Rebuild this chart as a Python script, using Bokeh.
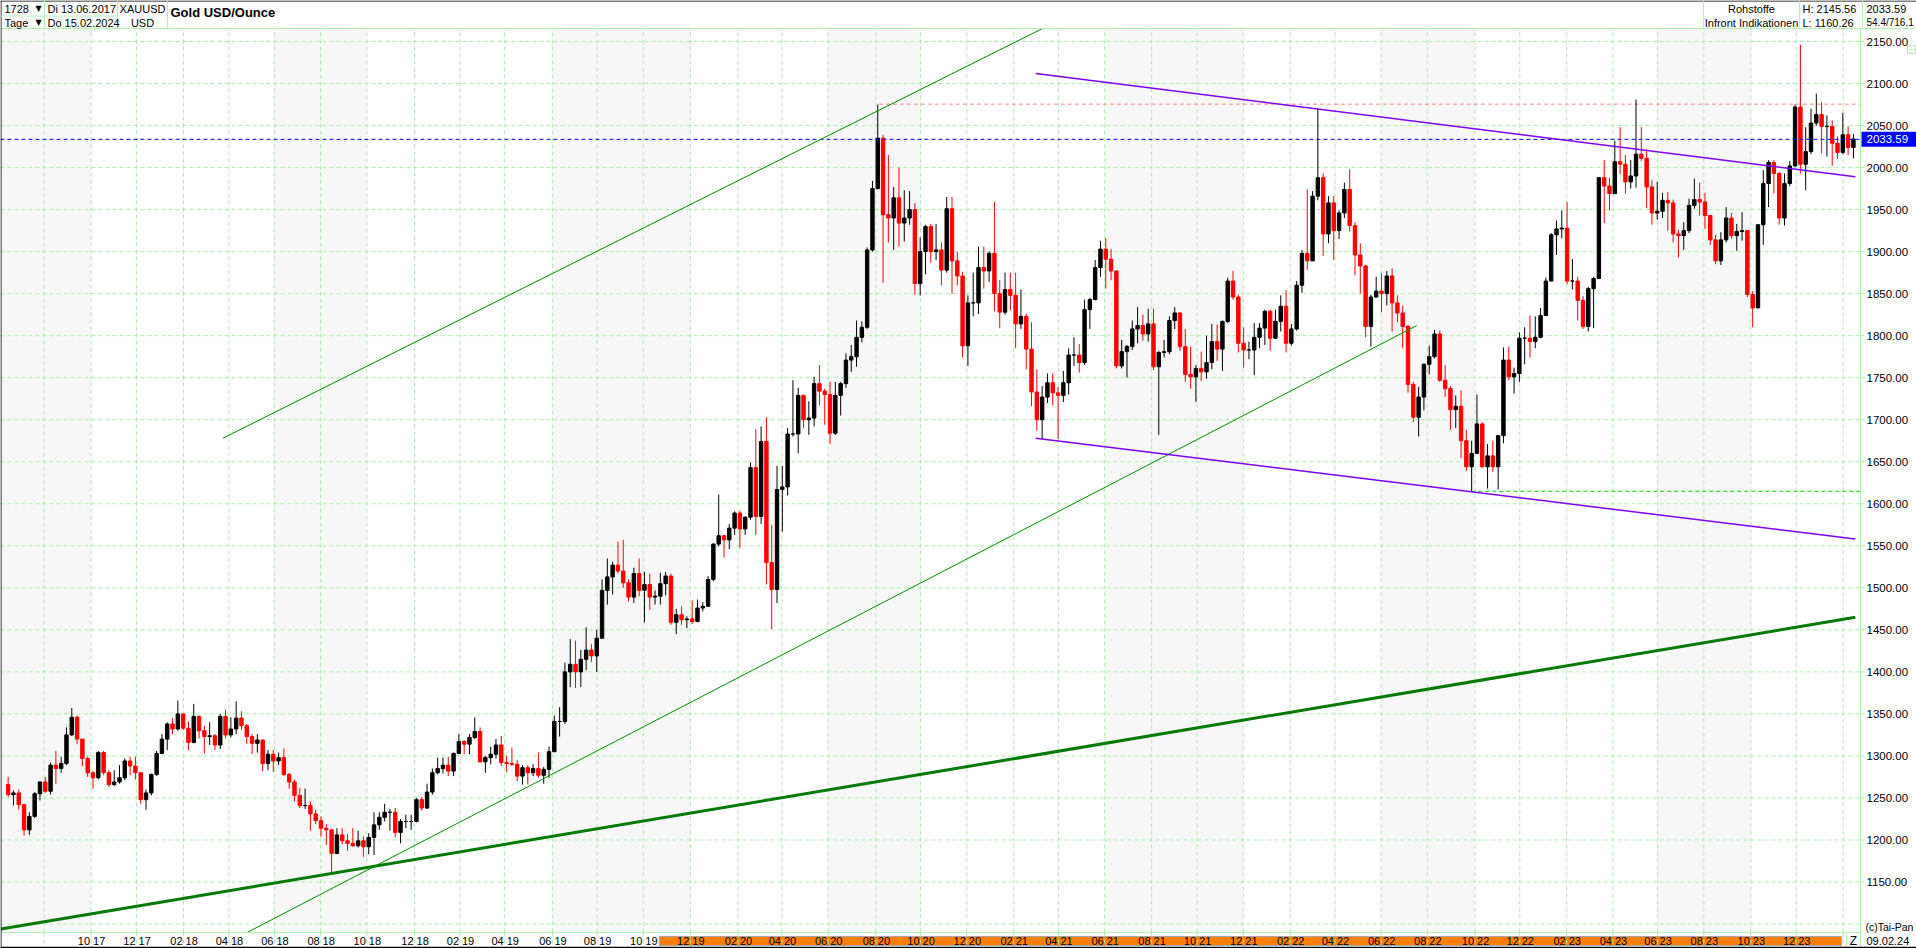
import pandas as pd
from bokeh.plotting import figure
from bokeh.models import ColumnDataSource, Range1d
from bokeh.core.properties import value
from bokeh.embed import file_html
from bokeh.resources import INLINE

# ---------------- data: weekly XAU/USD bars (week starting Monday) ----------------
first_week = "2017-06-12"

week_open = [
    # 2017
    1266, 1254, 1256, 1242, 1212, 1228, 1255, 1269, 1258, 1289, 1285, 1291, 1325, 1346, 1320, 1297, 1280, 1274, 1304, 1280, 1266, 1269, 1274, 1294, 1288, 1280, 1248, 1256, 1278,
    # 2018
    1303, 1320, 1338, 1332, 1350, 1333, 1316, 1347, 1330, 1323, 1324, 1313, 1347, 1325, 1332, 1345, 1336, 1323, 1315, 1319, 1291, 1302, 1294, 1298, 1278, 1269, 1253, 1241, 1241, 1231, 1223, 1214, 1212, 1184, 1206, 1199, 1196, 1193, 1199, 1192, 1203, 1218, 1227, 1233, 1233, 1209, 1222, 1222, 1222, 1248, 1238, 1257,
    # 2019
    1280, 1285, 1289, 1282, 1303, 1317, 1314, 1322, 1329, 1293, 1298, 1302, 1313, 1292, 1291, 1290, 1276, 1286, 1280, 1285, 1277, 1284, 1305, 1341, 1341, 1400, 1409, 1400, 1415, 1426, 1419, 1440, 1497, 1513, 1527, 1520, 1506, 1489, 1517, 1497, 1504, 1489, 1490, 1505, 1514, 1459, 1468, 1462, 1463, 1460, 1476, 1478, 1510,
    # 2020
    1552, 1562, 1557, 1571, 1589, 1570, 1584, 1643, 1585, 1674, 1530, 1498, 1617, 1620, 1683, 1683, 1729, 1700, 1702, 1743, 1734, 1730, 1684, 1729, 1743, 1771, 1775, 1798, 1810, 1902, 1975, 2035, 1944, 1940, 1964, 1934, 1940, 1950, 1862, 1900, 1930, 1900, 1902, 1878, 1951, 1889, 1871, 1788, 1839, 1839, 1881, 1877,
    # 2021
    1898, 1850, 1828, 1855, 1848, 1814, 1823, 1784, 1733, 1700, 1727, 1744, 1732, 1729, 1744, 1777, 1777, 1768, 1831, 1843, 1881, 1903, 1891, 1877, 1764, 1781, 1787, 1808, 1812, 1802, 1814, 1763, 1780, 1781, 1818, 1827, 1787, 1754, 1751, 1761, 1757, 1768, 1793, 1784, 1817, 1865, 1846, 1791, 1783, 1783, 1798, 1809,
    # 2022
    1829, 1797, 1817, 1835, 1791, 1808, 1860, 1898, 1889, 1966, 1988, 1921, 1958, 1925, 1946, 1974, 1931, 1896, 1883, 1811, 1846, 1853, 1850, 1871, 1839, 1827, 1811, 1742, 1703, 1727, 1766, 1775, 1802, 1747, 1737, 1712, 1716, 1675, 1644, 1660, 1695, 1644, 1657, 1644, 1681, 1771, 1751, 1755, 1797, 1797, 1793, 1798,
    # 2023
    1824, 1865, 1920, 1927, 1928, 1865, 1865, 1842, 1811, 1856, 1868, 1988, 1978, 1969, 2007, 2004, 1983, 1990, 2016, 2011, 1977, 1946, 1948, 1961, 1958, 1921, 1919, 1925, 1955, 1962, 1959, 1943, 1914, 1889, 1914, 1940, 1919, 1924, 1925, 1849, 1833, 1932, 1981, 2006, 1993, 1940, 1981, 2002, 2072, 2004, 2019, 2053,
    # 2024
    2063, 2049, 2049, 2029, 2018, 2039, 2024,
]

week_high = [
    1275, 1259, 1260, 1243, 1233, 1257, 1270, 1275, 1292, 1306, 1299, 1334, 1357, 1348, 1320, 1299, 1282, 1306, 1306, 1283, 1283, 1289, 1297, 1299, 1299, 1280, 1260, 1279, 1306,
    1326, 1340, 1345, 1366, 1350, 1341, 1362, 1348, 1336, 1340, 1326, 1350, 1355, 1346, 1365, 1353, 1338, 1326, 1326, 1319, 1307, 1307, 1304, 1309, 1280, 1272, 1262, 1261, 1246, 1236, 1228, 1219, 1213, 1214, 1214, 1207, 1214, 1211, 1204, 1208, 1233, 1233, 1243, 1237, 1238, 1225, 1230, 1230, 1250, 1251, 1267, 1285,
    1298, 1298, 1299, 1304, 1326, 1319, 1326, 1346, 1334, 1300, 1311, 1320, 1324, 1300, 1310, 1295, 1289, 1289, 1290, 1304, 1287, 1311, 1348, 1358, 1411, 1439, 1437, 1426, 1453, 1433, 1450, 1510, 1535, 1531, 1555, 1557, 1510, 1524, 1535, 1519, 1517, 1497, 1518, 1519, 1517, 1475, 1478, 1466, 1485, 1486, 1483, 1514, 1553,
    1611, 1563, 1576, 1591, 1592, 1585, 1649, 1689, 1692, 1703, 1575, 1645, 1645, 1690, 1747, 1738, 1730, 1722, 1751, 1765, 1737, 1745, 1745, 1745, 1779, 1789, 1818, 1817, 1905, 1984, 2075, 2039, 2015, 1977, 2000, 1973, 1972, 1958, 1917, 1932, 1933, 1933, 1911, 1965, 1965, 1900, 1876, 1848, 1875, 1906, 1906, 1900,
    1959, 1866, 1875, 1875, 1875, 1855, 1826, 1816, 1760, 1740, 1755, 1755, 1739, 1758, 1785, 1798, 1790, 1843, 1845, 1890, 1913, 1916, 1903, 1877, 1795, 1789, 1818, 1834, 1825, 1832, 1832, 1782, 1795, 1823, 1834, 1828, 1808, 1787, 1765, 1781, 1800, 1814, 1813, 1818, 1869, 1877, 1849, 1810, 1793, 1815, 1815, 1831,
    1831, 1831, 1848, 1854, 1814, 1865, 1902, 1974, 1972, 2070, 1993, 1966, 1966, 1949, 1982, 1998, 1935, 1910, 1884, 1849, 1870, 1874, 1877, 1880, 1848, 1836, 1813, 1745, 1739, 1767, 1788, 1807, 1806, 1765, 1740, 1729, 1735, 1688, 1675, 1730, 1697, 1671, 1675, 1682, 1786, 1787, 1762, 1804, 1810, 1824, 1823, 1833,
    1869, 1922, 1937, 1949, 1959, 1891, 1870, 1847, 1858, 1870, 1989, 2009, 1988, 2032, 2048, 2015, 2009, 2081, 2048, 2022, 1985, 1983, 1970, 1971, 1962, 1926, 1935, 1963, 1987, 1982, 1970, 1943, 1920, 1923, 1953, 1946, 1933, 1947, 1925, 1853, 1933, 1997, 2009, 2009, 1995, 1993, 2008, 2075, 2146, 2048, 2070, 2088,
    2078, 2062, 2056, 2037, 2065, 2049, 2040,
]

week_low = [
    1251, 1241, 1236, 1205, 1206, 1226, 1247, 1256, 1254, 1267, 1280, 1289, 1324, 1314, 1288, 1275, 1261, 1272, 1277, 1263, 1264, 1267, 1271, 1277, 1272, 1243, 1236, 1253, 1276,
    1302, 1307, 1326, 1330, 1331, 1307, 1315, 1321, 1303, 1313, 1307, 1308, 1321, 1322, 1326, 1331, 1314, 1302, 1304, 1282, 1283, 1281, 1289, 1276, 1261, 1246, 1238, 1237, 1211, 1219, 1204, 1194, 1160, 1183, 1195, 1187, 1192, 1191, 1180, 1183, 1182, 1212, 1222, 1211, 1203, 1196, 1214, 1212, 1221, 1235, 1237, 1254,
    1278, 1279, 1276, 1276, 1302, 1302, 1302, 1320, 1292, 1280, 1290, 1297, 1288, 1281, 1288, 1270, 1266, 1266, 1276, 1274, 1267, 1274, 1305, 1323, 1338, 1382, 1381, 1382, 1402, 1412, 1400, 1440, 1480, 1492, 1517, 1500, 1484, 1482, 1490, 1459, 1474, 1480, 1480, 1491, 1456, 1445, 1456, 1452, 1457, 1459, 1472, 1478, 1508,
    1549, 1536, 1546, 1563, 1547, 1563, 1581, 1563, 1576, 1504, 1451, 1482, 1567, 1610, 1680, 1660, 1690, 1682, 1692, 1717, 1694, 1671, 1682, 1705, 1738, 1757, 1763, 1792, 1808, 1900, 1974, 1863, 1911, 1902, 1906, 1912, 1932, 1849, 1848, 1873, 1887, 1890, 1860, 1875, 1850, 1860, 1774, 1764, 1823, 1826, 1856, 1864,
    1829, 1809, 1825, 1830, 1785, 1808, 1760, 1716, 1687, 1677, 1720, 1717, 1677, 1721, 1730, 1764, 1756, 1765, 1808, 1842, 1870, 1856, 1866, 1761, 1761, 1750, 1783, 1791, 1794, 1793, 1759, 1682, 1774, 1778, 1808, 1782, 1745, 1737, 1721, 1746, 1749, 1760, 1770, 1758, 1815, 1843, 1780, 1762, 1772, 1753, 1785, 1789,
    1782, 1796, 1805, 1780, 1788, 1806, 1851, 1878, 1889, 1961, 1895, 1910, 1890, 1915, 1940, 1924, 1872, 1850, 1798, 1787, 1845, 1828, 1836, 1805, 1816, 1785, 1732, 1697, 1680, 1711, 1754, 1773, 1745, 1727, 1688, 1690, 1654, 1639, 1615, 1660, 1643, 1618, 1638, 1617, 1672, 1747, 1731, 1745, 1766, 1774, 1785, 1797,
    1824, 1865, 1896, 1916, 1861, 1855, 1818, 1808, 1805, 1809, 1868, 1934, 1949, 1969, 1992, 1969, 1975, 1976, 2008, 1952, 1932, 1938, 1940, 1925, 1911, 1893, 1902, 1922, 1951, 1943, 1927, 1908, 1885, 1884, 1911, 1915, 1901, 1913, 1846, 1810, 1833, 1908, 1953, 1969, 1932, 1931, 1978, 2001, 1993, 1973, 2016, 2050,
    2017, 2013, 2002, 2010, 2016, 2015, 2011,
]

week_close = [
    1254, 1256, 1242, 1212, 1228, 1255, 1269, 1258, 1289, 1285, 1291, 1325, 1346, 1320, 1297, 1280, 1274, 1304, 1280, 1266, 1269, 1274, 1294, 1288, 1280, 1248, 1256, 1278, 1303,
    1320, 1338, 1332, 1350, 1333, 1316, 1347, 1330, 1323, 1324, 1313, 1347, 1325, 1332, 1345, 1336, 1323, 1315, 1319, 1291, 1302, 1294, 1298, 1278, 1269, 1253, 1241, 1241, 1231, 1223, 1214, 1212, 1184, 1206, 1199, 1196, 1193, 1199, 1192, 1203, 1218, 1227, 1233, 1233, 1209, 1222, 1222, 1222, 1248, 1238, 1257, 1280,
    1285, 1289, 1282, 1303, 1317, 1314, 1322, 1329, 1293, 1298, 1302, 1313, 1292, 1291, 1290, 1276, 1286, 1280, 1285, 1277, 1284, 1305, 1341, 1341, 1400, 1409, 1400, 1415, 1426, 1419, 1440, 1497, 1513, 1527, 1520, 1506, 1489, 1517, 1497, 1504, 1489, 1490, 1505, 1514, 1459, 1468, 1462, 1463, 1460, 1476, 1478, 1510, 1552,
    1562, 1557, 1571, 1589, 1570, 1584, 1643, 1585, 1674, 1530, 1498, 1617, 1620, 1683, 1683, 1729, 1700, 1702, 1743, 1734, 1730, 1684, 1729, 1743, 1771, 1775, 1798, 1810, 1902, 1975, 2035, 1944, 1940, 1964, 1934, 1940, 1950, 1862, 1900, 1930, 1900, 1902, 1878, 1951, 1889, 1871, 1788, 1839, 1839, 1881, 1877, 1898,
    1850, 1828, 1855, 1848, 1814, 1823, 1784, 1733, 1700, 1727, 1744, 1732, 1729, 1744, 1777, 1777, 1768, 1831, 1843, 1881, 1903, 1891, 1877, 1764, 1781, 1787, 1808, 1812, 1802, 1814, 1763, 1780, 1781, 1818, 1827, 1787, 1754, 1751, 1761, 1757, 1768, 1793, 1784, 1817, 1865, 1846, 1791, 1783, 1783, 1798, 1809, 1829,
    1797, 1817, 1835, 1791, 1808, 1860, 1898, 1889, 1966, 1988, 1921, 1958, 1925, 1946, 1974, 1931, 1896, 1883, 1811, 1846, 1853, 1850, 1871, 1839, 1827, 1811, 1742, 1703, 1727, 1766, 1775, 1802, 1747, 1737, 1712, 1716, 1675, 1644, 1660, 1695, 1644, 1657, 1644, 1681, 1771, 1751, 1755, 1797, 1797, 1793, 1798, 1824,
    1865, 1920, 1927, 1928, 1865, 1865, 1842, 1811, 1856, 1868, 1988, 1978, 1969, 2007, 2004, 1983, 1990, 2016, 2011, 1977, 1946, 1948, 1961, 1958, 1921, 1919, 1925, 1955, 1962, 1959, 1943, 1914, 1889, 1914, 1940, 1919, 1924, 1925, 1849, 1833, 1932, 1981, 2006, 1993, 1940, 1981, 2002, 2072, 2004, 2019, 2053, 2063,
    2049, 2049, 2029, 2018, 2039, 2024, 2034,
]

last_price = 2033.59
range_high = 2145.56
range_low = 1160.26

# y axis
y_tick_values = [1150, 1200, 1250, 1300, 1350, 1400, 1450, 1500, 1550, 1600, 1650, 1700,
                 1750, 1800, 1850, 1900, 1950, 2000, 2050, 2100, 2150]
y_grid_values = [1100] + y_tick_values

# x axis (every second month)
x_grid_months = ["2017-08", "2017-10", "2017-12",
                 "2018-02", "2018-04", "2018-06", "2018-08", "2018-10", "2018-12",
                 "2019-02", "2019-04", "2019-06", "2019-08", "2019-10", "2019-12",
                 "2020-02", "2020-04", "2020-06", "2020-08", "2020-10", "2020-12",
                 "2021-02", "2021-04", "2021-06", "2021-08", "2021-10", "2021-12",
                 "2022-02", "2022-04", "2022-06", "2022-08", "2022-10", "2022-12",
                 "2023-02", "2023-04", "2023-06", "2023-08", "2023-10", "2023-12",
                 "2024-02"]
x_tick_labels = ["08 17", "10 17", "12 17",
                 "02 18", "04 18", "06 18", "08 18", "10 18", "12 18",
                 "02 19", "04 19", "06 19", "08 19", "10 19", "12 19",
                 "02 20", "04 20", "06 20", "08 20", "10 20", "12 20",
                 "02 21", "04 21", "06 21", "08 21", "10 21", "12 21",
                 "02 22", "04 22", "06 22", "08 22", "10 22", "12 22",
                 "02 23", "04 23", "06 23", "08 23", "10 23", "12 23",
                 "02 24"]

# drawn trend lines (date, price) -> (date, price)
support_start = ("2017-06-05", 1094)
support_end = ("2024-02-17", 1465)
thin_x0 = ["2018-03-25", "2018-04-26"]
thin_y0 = [1678, 1090]
thin_x1 = ["2021-03-10", "2022-07-18"]
thin_y1 = [2165, 1812]
wedge_x0 = ["2021-03-02", "2021-03-02"]
wedge_y0 = [2112, 1678]
wedge_x1 = ["2024-02-17", "2024-02-17"]
wedge_y1 = [1989, 1558]

# horizontal levels
level_high_2020 = 2075.47
level_high_start = "2020-08-07"
level_low_2022 = 1614.85
level_low_start = "2022-09-28"

# shaded background periods
band_starts = ["2017-06-01", "2018-06-01", "2019-06-03", "2020-06-01", "2021-06-01", "2022-06-01", "2023-06-01"]
band_ends = ["2017-10-02", "2018-10-01", "2019-12-02", "2020-10-01", "2021-12-01", "2022-10-03", "2023-10-02"]

# selection bar in the date strip
strip_sel_start = "2019-10-22"
strip_sel_end = "2024-01-30"

# ---------------- layout / style ----------------
FONT = "Liberation Sans"
W, H = 1916, 948
PX_R = 1860           # right edge of the price pane (pixels)
PY_T, PY_B = 28, 932  # top / bottom of the price pane (pixels)
GRID = "#a8eea8"
FRAME = "#b4f0b4"
BAND = "#f7f7f7"
DAY = 86400000.0
PX_PER_DAY = 0.7575
PX_PER_USD = 0.8405


def ms(d):
    return pd.Timestamp(d).value / 1e6


# data window: the 10/17 grid line sits 90.6 px from the left edge, 2150 sits 41 px from the top
mpp = DAY / PX_PER_DAY
upp = 1.0 / PX_PER_USD
x0 = ms("2017-10-02") - 90.6 * mpp
ref_price, ref_px = 2150.0, 41.0
x1 = x0 + mpp * PX_R
y1 = ref_price + upp * (ref_px - PY_T)
y0 = ref_price - upp * (PY_B - ref_px)
xr = Range1d(x0, x0 + mpp * W)
yr = Range1d(ref_price - upp * (H - ref_px), ref_price + upp * ref_px)

n = len(week_close)
assert len(week_open) == n and len(week_high) == n and len(week_low) == n

weeks = pd.date_range(first_week, periods=n, freq="7D")
xs = [ms(d) + 2.5 * DAY for d in weeks]
up = [c >= o for o, c in zip(week_open, week_close)]
src = ColumnDataSource(dict(
    x=xs, o=week_open, h=week_high, l=week_low, c=week_close,
    top=[max(o, c) for o, c in zip(week_open, week_close)],
    bottom=[min(o, c) for o, c in zip(week_open, week_close)],
    color=["#000000" if u else "#ff0000" for u in up],
))

grid_x = [ms(pd.offsets.BMonthBegin().rollforward(pd.Timestamp(m + "-01"))) for m in x_grid_months]

p = figure(width=W, height=H, x_range=xr, y_range=yr, output_backend="svg",
           toolbar_location=None, x_axis_location=None, y_axis_location=None, min_border=0)
p.extra_x_ranges = {"px": Range1d(0, W)}
p.extra_y_ranges = {"px": Range1d(H, 0)}
p.outline_line_color = None
p.grid.visible = False
p.background_fill_color = "white"
p.border_fill_color = "white"

PX = dict(x_range_name="px", y_range_name="px")


def ptext(x, y, s, align="left", bold=False, size="11px", font=FONT, color="black", **kw):
    p.text(x=[x], y=[y], text=[s], text_font=value(font), text_font_size=size,
           text_align=align, text_baseline="middle", text_color=color,
           text_font_style="bold" if bold else "normal", **kw)


# ---- price pane background bands ----
p.quad(left=[max(ms(s), x0) for s in band_starts], right=[ms(e) for e in band_ends],
       bottom=[y0] * len(band_starts), top=[y1] * len(band_starts),
       fill_color=BAND, line_color=None)

# ---- grid ----
p.segment(x0=[x0] * len(y_grid_values), y0=y_grid_values, x1=[x1] * len(y_grid_values), y1=y_grid_values,
          color=GRID, line_dash="4 3", line_width=1)
p.segment(x0=grid_x, y0=[y0] * len(grid_x), x1=grid_x, y1=[y1] * len(grid_x),
          color=GRID, line_dash="4 3", line_width=1)

# ---- horizontal levels ----
p.segment(x0=[ms(level_high_start)], y0=[level_high_2020], x1=[x1], y1=[level_high_2020],
          color="#ff8080", line_dash="4 3", line_width=1)
p.segment(x0=[ms(level_low_start)], y0=[level_low_2022], x1=[x1], y1=[level_low_2022],
          color="#00dd00", line_dash="4 3", line_width=1)

# ---- candles ----
p.segment(x0="x", y0="l", x1="x", y1="h", color="color", line_width=1, source=src)
p.vbar(x="x", width=4.5 * DAY, top="top", bottom="bottom", fill_color="color",
       line_color="color", line_width=1, source=src)

# ---- last price line ----
p.segment(x0=[x0], y0=[last_price], x1=[x1], y1=[last_price], color="#0000ff",
          line_dash="4 3", line_width=1)

# ---- trend lines ----
p.segment(x0=[ms(support_start[0])], y0=[support_start[1]], x1=[ms(support_end[0])], y1=[support_end[1]],
          color="#007a00", line_width=3)
p.segment(x0=[ms(d) for d in thin_x0], y0=thin_y0, x1=[ms(d) for d in thin_x1], y1=thin_y1,
          color="#009000", line_width=1)
p.segment(x0=[ms(d) for d in wedge_x0], y0=wedge_y0, x1=[ms(d) for d in wedge_x1], y1=wedge_y1,
          color="#8000ff", line_width=1.5)

# ---- price axis (right) ----
p.segment(x0=[PX_R] * len(y_tick_values), y0=y_tick_values, x1=[PX_R + 4] * len(y_tick_values),
          y1=y_tick_values, color=FRAME, line_width=1, x_range_name="px")
p.text(x=[PX_R + 6] * len(y_tick_values), y=y_tick_values, text=["%.2f" % v for v in y_tick_values],
       text_font=value(FONT), text_font_size="11.5px", text_align="left", text_baseline="middle",
       text_color="black", x_range_name="px")
# last price marker
p.quad(left=[PX_R + 1], right=[W], bottom=[last_price - 7.5 * upp], top=[last_price + 7.5 * upp],
       fill_color="#0000ff", line_color=None, x_range_name="px")
p.text(x=[PX_R + 6], y=[last_price], text=["%.2f" % last_price], text_font=value(FONT),
       text_font_size="11.5px", text_align="left", text_baseline="middle", text_color="white",
       x_range_name="px")
ptext(PX_R + 5, PY_B - 6, "(c)Tai-Pan", size="10.5px", **PX)
# small pane button
p.quad(left=[W - 9], right=[W - 1], bottom=[PY_T + 25], top=[PY_T + 17], fill_color=None,
       line_color=FRAME, line_width=1, **PX)
p.segment(x0=[W - 7], y0=[PY_T + 21], x1=[W - 3], y1=[PY_T + 21], color=FRAME, line_width=1, **PX)

# ---- pane frame ----
p.segment(x0=[0, 0, PX_R], y0=[PY_T, PY_B, PY_T], x1=[W, PX_R, PX_R], y1=[PY_T, PY_B, H],
          color=FRAME, line_width=1, **PX)
p.segment(x0=[0.5, 0], y0=[0, 0.5], x1=[0.5, W], y1=[H, 0.5], color="black", line_width=1, **PX)

# ---- header ----
sep_x = [44, 117, 167, PX_R - 157, PX_R - 61, PX_R + 2]
p.segment(x0=sep_x, y0=[0] * len(sep_x), x1=sep_x, y1=[PY_T] * len(sep_x), color=FRAME, line_width=1, **PX)
p.segment(x0=[0], y0=[15.5], x1=[117], y1=[15.5], color=FRAME, line_width=1, **PX)
R1, R2 = 8, 22
ptext(4, R1, "1728", **PX)
ptext(35, R1, "\u25bc", size="8px", font="DejaVu Sans", **PX)
ptext(4, R2, "Tage", **PX)
ptext(35, R2, "\u25bc", size="8px", font="DejaVu Sans", **PX)
ptext(47, R1, "Di 13.06.2017", **PX)
ptext(47, R2, "Do 15.02.2024", **PX)
ptext(142, R1, "XAUUSD", align="center", **PX)
ptext(142, R2, "USD", align="center", **PX)
ptext(170, 12, "Gold USD/Ounce", bold=True, size="13px", **PX)
ptext(PX_R - 109, R1, "Rohstoffe", align="center", **PX)
ptext(PX_R - 109, R2, "Infront Indikationen", align="center", **PX)
ptext(PX_R - 58, R1, "H: %.2f" % range_high, **PX)
ptext(PX_R - 58, R2, "L: %.2f" % range_low, **PX)
ptext(PX_R + 6, R1, "%.2f" % last_price, **PX)
ptext(PX_R + 6, R2, "54.4/716.1", size="10px", **PX)

# ---- date strip ----
SY = PY_B   # top of the strip in pixels
p.quad(left=[ms(strip_sel_start)], right=[ms(strip_sel_end)], bottom=[SY + 13], top=[SY + 4],
       fill_color="#ff8000", line_color="#a8a8a8", line_width=1, y_range_name="px")
p.segment(x0=grid_x, y0=[SY] * len(grid_x), x1=grid_x, y1=[H] * len(grid_x),
          color=GRID, line_dash="4 3", line_width=1, y_range_name="px")
lab_x = grid_x[1:-1]
lab = x_tick_labels[1:-1]
p.text(x=lab_x, y=[SY + 8.5] * len(lab_x), text=[s.split()[0] for s in lab], text_align="right",
       x_offset=-1, text_baseline="middle", text_font=value(FONT), text_font_size="11px",
       text_color="black", y_range_name="px")
p.text(x=lab_x, y=[SY + 8.5] * len(lab_x), text=[s.split()[1] for s in lab], text_align="left",
       x_offset=2, text_baseline="middle", text_font=value(FONT), text_font_size="11px",
       text_color="black", y_range_name="px")
p.segment(x0=[PX_R - 14], y0=[SY], x1=[PX_R - 14], y1=[H], color=FRAME, line_width=1, **PX)
p.segment(x0=[0], y0=[H - 1], x1=[W], y1=[H - 1], color="black", line_width=1.5, **PX)
ptext(PX_R - 7, SY + 8.5, "Z", align="center", size="12px", **PX)
ptext(PX_R + 6, SY + 8.5, "09.02.24", **PX)

open("out.html", "w").write(file_html(p, INLINE))
